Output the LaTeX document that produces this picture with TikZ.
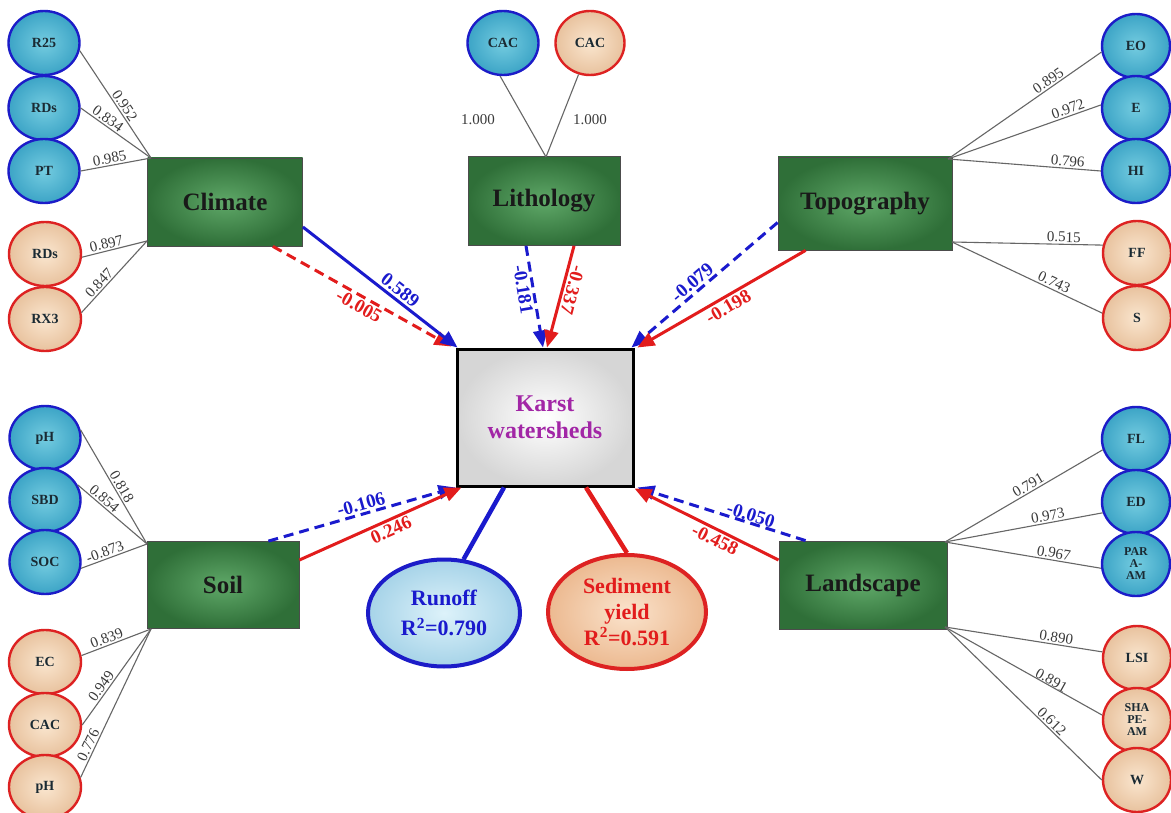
\documentclass[tikz,border=0pt]{standalone}
\usepackage{fontspec}
\setmainfont{Liberation Serif}
\usetikzlibrary{shapes.geometric,arrows.meta,calc}
\definecolor{gin}{HTML}{5FA868}
\definecolor{gout}{HTML}{2F6F38}
\definecolor{bcin}{HTML}{74CCE0}
\definecolor{bcout}{HTML}{3CA4C6}
\definecolor{rcin}{HTML}{FAE6CF}
\definecolor{rcout}{HTML}{E8C29E}
\definecolor{cblue}{HTML}{1C1CC8}
\definecolor{cred}{HTML}{DD2222}
\definecolor{ablue}{HTML}{1A1ACD}
\definecolor{ared}{HTML}{E21C1C}
\definecolor{ldgray}{HTML}{666666}
\definecolor{ldtext}{HTML}{3A3A3A}
\definecolor{txtdark}{HTML}{1A2A33}
\definecolor{kpurple}{HTML}{A226A6}
\definecolor{roin}{HTML}{DDF2FA}
\definecolor{roout}{HTML}{A6D3E8}
\definecolor{sein}{HTML}{FAE3CC}
\definecolor{seout}{HTML}{ECB990}
\tikzset{
 grp/.style={rectangle, draw=black!70, line width=0.8pt, inner color=gin, outer color=gout,
   font=\bfseries\fontsize{25}{28}\selectfont, text=black!90, inner sep=0pt},
 bc/.style={ellipse, draw=cblue, line width=2.4pt, inner color=bcin, outer color=bcout,
   minimum width=71pt, minimum height=64pt, inner sep=0pt, align=center,
   font=\bfseries\fontsize{14}{14}\selectfont, text=txtdark},
 rc/.style={ellipse, draw=cred, line width=2.4pt, inner color=rcin, outer color=rcout,
   minimum width=72pt, minimum height=64pt, inner sep=0pt, align=center,
   font=\bfseries\fontsize{14}{14}\selectfont, text=txtdark},
 small/.style={font=\bfseries\fontsize{12}{12}\selectfont},
 ld/.style={draw=ldgray, line width=1.1pt},
 ll/.style={sloped, font=\fontsize{15}{15}\selectfont, text=ldtext, inner sep=1.5pt},
 pb/.style={draw=ablue, line width=3pt, -{Triangle[length=17pt,width=14pt]}},
 pr/.style={draw=ared, line width=3pt, -{Triangle[length=17pt,width=14pt]}},
 dsh/.style={dash pattern=on 10pt off 6pt},
 cbl/.style={sloped, font=\bfseries\fontsize{19}{19}\selectfont, text=ablue, inner sep=2pt},
 crl/.style={sloped, font=\bfseries\fontsize{19}{19}\selectfont, text=ared, inner sep=2pt},
}
\begin{document}
\begin{tikzpicture}[x=1pt,y=-1pt]
\useasboundingbox[fill=white] (0,0) rectangle (1171,813);

% construct boxes
\node[grp, minimum width=155pt, minimum height=88pt] (climate) at (225,202) {Climate};
\node[grp, minimum width=152pt, minimum height=89pt] (lith) at (544,201) {Lithology};
\node[grp, minimum width=174pt, minimum height=93pt] (topo) at (865,203.5) {Topography};
\node[grp, minimum width=152pt, minimum height=87pt] (soil) at (223,585) {Soil};
\node[grp, minimum width=168pt, minimum height=88pt] (land) at (863,585) {Landscape};

\node[rectangle, draw=black, line width=3pt, inner color=white, outer color=black!16,
  minimum width=176pt, minimum height=137pt, align=center, text=kpurple,
  font=\bfseries\fontsize{24}{27}\selectfont] (karst) at (545,417.5) {Karst\\watersheds};

\node[ellipse, draw=cblue, line width=4pt, inner color=roin, outer color=roout,
  minimum width=152pt, minimum height=107pt, inner sep=0pt, align=center, text=ablue,
  font=\bfseries\fontsize{22}{30}\selectfont] (runoff) at (444,613) {Runoff\\R\textsuperscript{2}=0.790};
\node[ellipse, draw=cred, line width=4pt, inner color=sein, outer color=seout,
  minimum width=158pt, minimum height=114pt, inner sep=0pt, align=center, text=ared,
  font=\bfseries\fontsize{22}{26}\selectfont] (sediment) at (627,612) {Sediment\\yield\\R\textsuperscript{2}=0.591};

% indicator circles
\node[bc] (r25) at (44,43) {R25};
\node[bc] (rds1) at (44,108) {RDs};
\node[bc] (pt) at (44,171) {PT};
\node[rc] (rds2) at (45,254) {RDs};
\node[rc] (rx3) at (45,319) {RX3};

\node[bc] (cac1) at (503,43) {CAC};
\node[rc, minimum width=69pt] (cac2) at (590,43) {CAC};

\node[bc, minimum width=68pt] (eo) at (1136,46) {EO};
\node[bc, minimum width=68pt] (e) at (1136,108) {E};
\node[bc, minimum width=68pt] (hi) at (1136,171) {HI};
\node[rc, minimum width=68pt] (ff) at (1137,253) {FF};
\node[rc, minimum width=68pt] (s) at (1137,318) {S};

\node[bc] (ph1) at (45,438) {pH};
\node[bc] (sbd) at (45,500) {SBD};
\node[bc] (soc) at (45,562) {SOC};
\node[rc] (ec) at (45,662) {EC};
\node[rc] (cac3) at (45,725) {CAC};
\node[rc] (ph2) at (45,787) {pH};

\node[bc, minimum width=68pt] (fl) at (1136,439) {FL};
\node[bc, minimum width=68pt] (ed) at (1136,502) {ED};
\node[bc, minimum width=68pt, small] (para) at (1136,564) {PAR\\A-\\AM};
\node[rc, minimum width=68pt] (lsi) at (1137,658) {LSI};
\node[rc, minimum width=68pt, small] (shape) at (1137,720) {SHA\\PE-\\AM};
\node[rc, minimum width=68pt] (w) at (1137,780) {W};

% convergence points
\coordinate (cB) at (151,158);
\coordinate (cR) at (147,241);
\coordinate (lT) at (546,157);
\coordinate (tB) at (948,159);
\coordinate (tR) at (952,242);
\coordinate (sB) at (147,544);
\coordinate (sR) at (151,629);
\coordinate (aB) at (945,542);
\coordinate (aR) at (945,627);

% loadings
\draw[ld] (r25.-12) -- node[ll, pos=0.55, above] {0.952} (cB);
\draw[ld] (rds1.east) -- node[ll, pos=0.33, above] {0.834} (cB);
\draw[ld] (pt.east) -- node[ll, pos=0.43, above] {0.985} (cB);
\draw[ld] (rds2.-5) -- node[ll, pos=0.4, above] {0.897} (cR);
\draw[ld] (rx3.10) -- node[ll, pos=0.35, above] {0.847} (cR);

\draw[ld] (cac1.-95) -- (lT);
\draw[ld] (cac2.-110) -- (lT);
\node[font=\fontsize{15}{15}\selectfont, text=ldtext] (l1) at (478,120) {1.000};
\node[font=\fontsize{15}{15}\selectfont, text=ldtext] (l2) at (590,120) {1.000};

\draw[ld] (tB) -- node[ll, pos=0.68, above] {0.895} (eo.190);
\draw[ld] (tB) -- node[ll, pos=0.8, above] {0.972} (e.175);
\draw[ld] (tB) -- node[ll, pos=0.78, above] {0.796} (hi.west);
\draw[ld] (tR) -- node[ll, pos=0.74, above] {0.515} (ff.167);
\draw[ld] (tR) -- node[ll, pos=0.66, above] {0.743} (s.172);

\draw[ld] (ph1.13) -- node[ll, pos=0.53, above] {0.818} (sB);
\draw[ld] (sbd.25) -- node[ll, pos=0.32, above] {0.854} (sB);
\draw[ld] (soc.-10) -- node[ll, pos=0.4, above] {-0.873} (sB);
\draw[ld] (ec.10) -- node[ll, pos=0.4, above] {0.839} (sR);
\draw[ld] (cac3.east) -- node[ll, pos=0.36, above] {0.949} (sR);
\draw[ld] (ph2.15) -- node[ll, pos=0.2, above] {0.776} (sR);

\draw[ld] (aB) -- node[ll, pos=0.55, above] {0.791} (fl.198);
\draw[ld] (aB) -- node[ll, pos=0.66, above] {0.973} (ed.198);
\draw[ld] (aB) -- node[ll, pos=0.69, above] {0.967} (para.187);
\draw[ld] (aR) -- node[ll, pos=0.7, above] {0.890} (lsi.170);
\draw[ld] (aR) -- node[ll, pos=0.66, above, inner sep=0pt] {0.891} (shape.172);
\draw[ld] (aR) -- node[ll, pos=0.65, above] {0.612} (w.west);

% karst to outcomes
\draw[draw=ablue, line width=4.5pt] ([xshift=-41pt]karst.south) -- (runoff.70);
\draw[draw=ared, line width=4.5pt] ([xshift=41pt]karst.south) -- (sediment.north);

% path coefficients
\draw[pr, dsh] ([xshift=-30pt]climate.south east) -- node[crl, pos=0.51, below] {-0.005} ([xshift=-4pt,yshift=1pt]karst.north west);
\draw[pb] ([yshift=-25pt]climate.east) -- node[cbl, pos=0.59, above] {0.589} ([xshift=2pt]karst.north west);

\draw[pb, dsh] ([xshift=-18pt]lith.south) -- node[cbl, pos=0.41, below] {-0.181} ([xshift=-2pt]karst.north);
\draw[pr] ([xshift=30pt]lith.south) -- node[crl, pos=0.41, above, allow upside down] {-0.337} ([xshift=2pt]karst.north);

\draw[pb, dsh] ([yshift=-19pt]topo.west) -- node[cbl, pos=0.54, above] {-0.079} ([xshift=-3pt]karst.north east);
\draw[pr] ([xshift=28pt]topo.south west) -- node[crl, pos=0.49, below] {-0.198} ([xshift=3pt]karst.north east);

\draw[pb, dsh] ([xshift=-31pt]soil.north east) -- node[cbl, pos=0.51, above] {-0.106} (karst.south west);
\draw[pr] ([yshift=25pt]soil.east) -- node[crl, pos=0.54, below] {0.246} ([xshift=6pt]karst.south west);

\draw[pb, dsh] ([xshift=27pt]land.north west) -- node[cbl, pos=0.34, above, inner sep=0pt] {-0.050} ([xshift=3pt]karst.south east);
\draw[pr] ([yshift=25pt]land.west) -- node[crl, pos=0.41, below] {-0.458} ([yshift=-1pt]karst.south east);
\end{tikzpicture}
\end{document}
